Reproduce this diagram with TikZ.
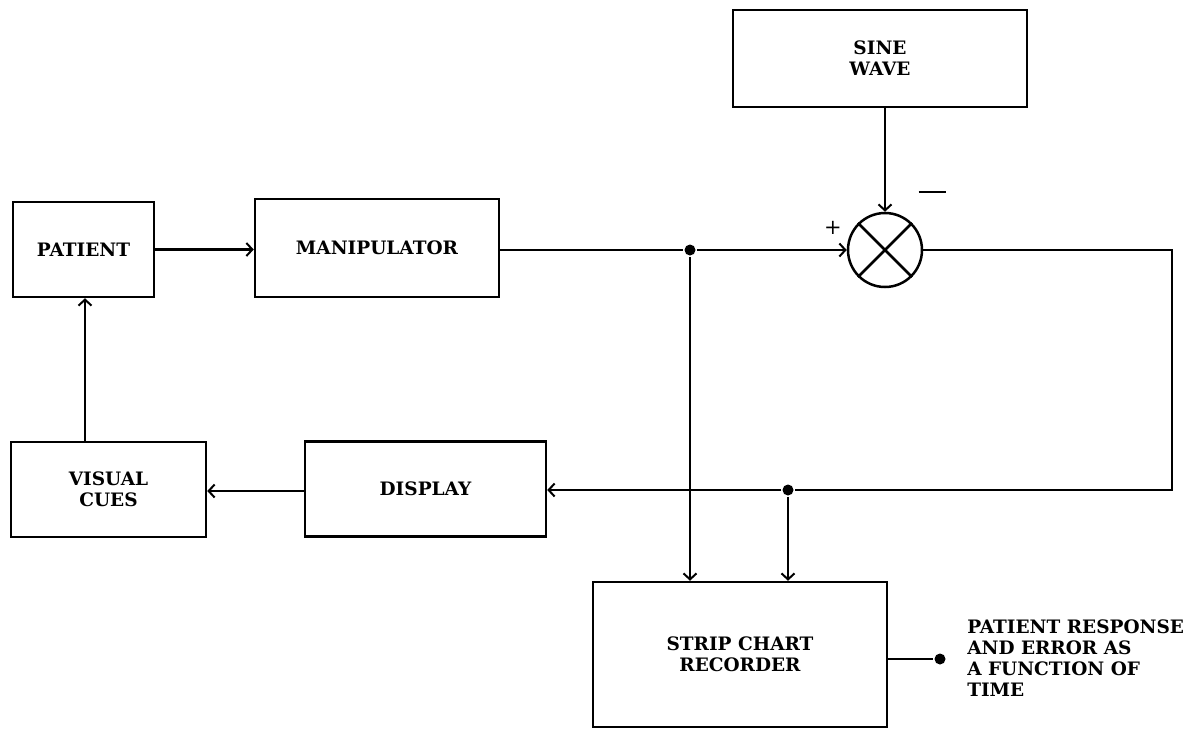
\documentclass[tikz,border=0pt]{standalone}
\usepackage{fontspec}
\setmainfont{DejaVu Serif}
\usetikzlibrary{arrows.meta,calc}
\begin{document}
\begin{tikzpicture}[x=1pt,y=-1pt,
  line width=2.5pt,
  txt/.style={font=\bfseries\fontsize{18.5}{21}\selectfont},
  blk/.style={draw, rectangle, inner sep=0pt, align=center, txt},
  arr/.style={-{Straight Barb[length=6pt,width=13pt,line width=2pt]}},
  dotnode/.style={circle, fill=black, inner sep=0pt, minimum size=11pt}]
\useasboundingbox (0,0) rectangle (1187,729);
% blocks
\node[blk, minimum width=294pt, minimum height=97pt] (sine) at (880,58.5) {SINE\\WAVE};
\node[draw, circle, inner sep=0pt, minimum size=74pt] (sum) at (885,250) {};
\draw (sum.north west) -- (sum.south east) (sum.north east) -- (sum.south west);
\node[blk, minimum width=141pt, minimum height=95pt] (patient) at (83.5,249.5) {PATIENT};
\node[blk, minimum width=244pt, minimum height=98pt] (manip) at (377,248) {MANIPULATOR};
\node[blk, minimum width=195pt, minimum height=95pt] (visual) at (108.5,489.5) {VISUAL\\CUES};
\node[blk, minimum width=241pt, minimum height=95pt] (display) at (425.5,489) {DISPLAY};
\node[blk, minimum width=294pt, minimum height=145pt] (strip) at (740,654.5) {STRIP CHART\\RECORDER};
\node[anchor=north west, align=left, inner sep=0pt, txt] (lbl) at (966,619)
  {PATIENT RESPONSE\\AND ERROR AS\\A FUNCTION OF\\TIME};
% signs
\node[font=\fontsize{21}{21}\selectfont] (plus) at (833,228) {+};
\node[inner sep=0pt] (minus) at (932,192) {\rule{27pt}{2pt}};
% junctions
\node[dotnode] (j1) at (690,250) {};
\node[dotnode] (j2) at (788,490) {};
\node[dotnode] (out) at (940,659) {};
\coordinate (c1) at (1172,250);
\coordinate (c2) at (1172,490);
% connectors
\draw[arr] (patient.east) -- (patient.east -| manip.west);
\draw (manip.east |- j1) -- (j1);
\draw[arr] (j1) -- (sum.west);
\draw[arr] (sum.north |- sine.south) -- (sum.north);
\draw (sum.east) -- (c1) -- (c2) -- (j2);
\draw[arr] (j2) -- (display.east |- j2);
\draw[arr] (j1) -- (j1 |- strip.north);
\draw[arr] (j2) -- (j2 |- strip.north);
\draw[arr] (display.west |- 0,491) -- (visual.east |- 0,491);
\draw[arr] (visual.north -| 85,0) -- (patient.south -| 85,0);
\draw (strip.east |- out) -- (out);
\end{tikzpicture}
\end{document}
